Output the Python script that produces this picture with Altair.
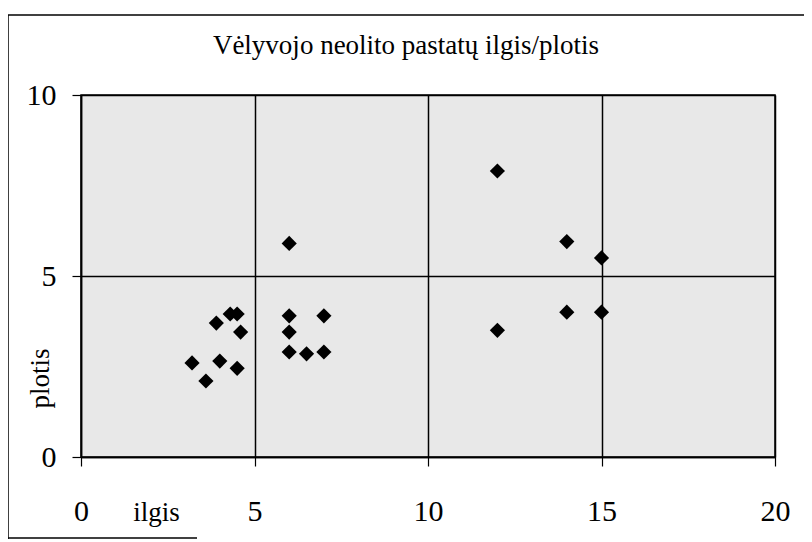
import altair as alt
import pandas as pd

# House length (ilgis) / width (plotis)
ilgis = [3.2, 3.6, 3.9, 4.0, 4.3, 4.5, 4.5, 4.6, 6.0, 6.0, 6.0, 6.0, 6.5, 7.0, 7.0,
         12.0, 12.0, 14.0, 14.0, 15.0, 15.0]
plotis = [2.6, 2.1, 3.7, 2.65, 3.95, 3.95, 2.45, 3.45, 5.9, 3.9, 3.45, 2.9, 2.85, 3.9, 2.9,
          7.9, 3.5, 5.95, 4.0, 5.5, 4.0]
x_ticks = [0, 5, 10, 15, 20]
y_ticks = [0, 5, 10]
title_text = "Vėlyvojo neolito pastatų ilgis/plotis"

df = pd.DataFrame({"ilgis": ilgis, "plotis": plotis})

FONT = "Liberation Serif"
W, H = 694, 362

points = alt.Chart(df).mark_point(
    shape="diamond", filled=True, color="black", size=230, opacity=1
).encode(
    x=alt.X("ilgis:Q",
            scale=alt.Scale(domain=[0, 20], nice=False),
            axis=alt.Axis(values=x_ticks, title="ilgis", grid=True,
                          titleX=75, titleY=63, titleAnchor="middle",
                          titleBaseline="alphabetic", titleAlign="center",
                          labelBaseline="alphabetic",
                          labelPadding=54, labelFlush=False)),
    y=alt.Y("plotis:Q",
            scale=alt.Scale(domain=[0, 10], nice=False),
            axis=alt.Axis(values=y_ticks, title="plotis", grid=True,
                          titleX=-41, titleY=283, titleAngle=-90,
                          titleBaseline="middle", titleAlign="center",
                          labelPadding=16, labelFlush=False)),
)

title = alt.Chart().mark_text(
    font=FONT, fontSize=27, color="black", align="center", baseline="middle"
).encode(x=alt.value(325), y=alt.value(-49), text=alt.value(title_text))

# decorative outer frame of the scanned figure (left, top and a short bottom piece)
frame_left = alt.Chart().mark_rule(color="black", strokeWidth=1.5).encode(
    x=alt.value(-73), y=alt.value(-80), y2=alt.value(448))
frame_top = alt.Chart().mark_rule(color="black", strokeWidth=1.5).encode(
    x=alt.value(-73), x2=alt.value(740), y=alt.value(-80))
frame_bottom = alt.Chart().mark_rule(color="black", strokeWidth=1.5).encode(
    x=alt.value(-73), x2=alt.value(116), y=alt.value(443))

chart = alt.layer(points, title, frame_left, frame_top, frame_bottom).properties(
    width=W, height=H,
    autosize=alt.AutoSizeParams(type="none"),
    padding={"left": 73, "top": 87, "right": 29, "bottom": 82},
    background="white",
).configure_view(
    fill="#e8e8e8", stroke="black", strokeWidth=1.5
).configure_axis(
    labelFont=FONT, titleFont=FONT, labelFontSize=30, titleFontSize=27,
    labelColor="black", titleColor="black", titleFontWeight="normal",
    domainColor="black", domainWidth=1.5, tickColor="black", tickSize=9,
    tickWidth=1.2, gridColor="black", gridWidth=1.5, gridOpacity=1,
)

chart.save("out.html", embed_options={"renderer": "svg", "actions": False})
